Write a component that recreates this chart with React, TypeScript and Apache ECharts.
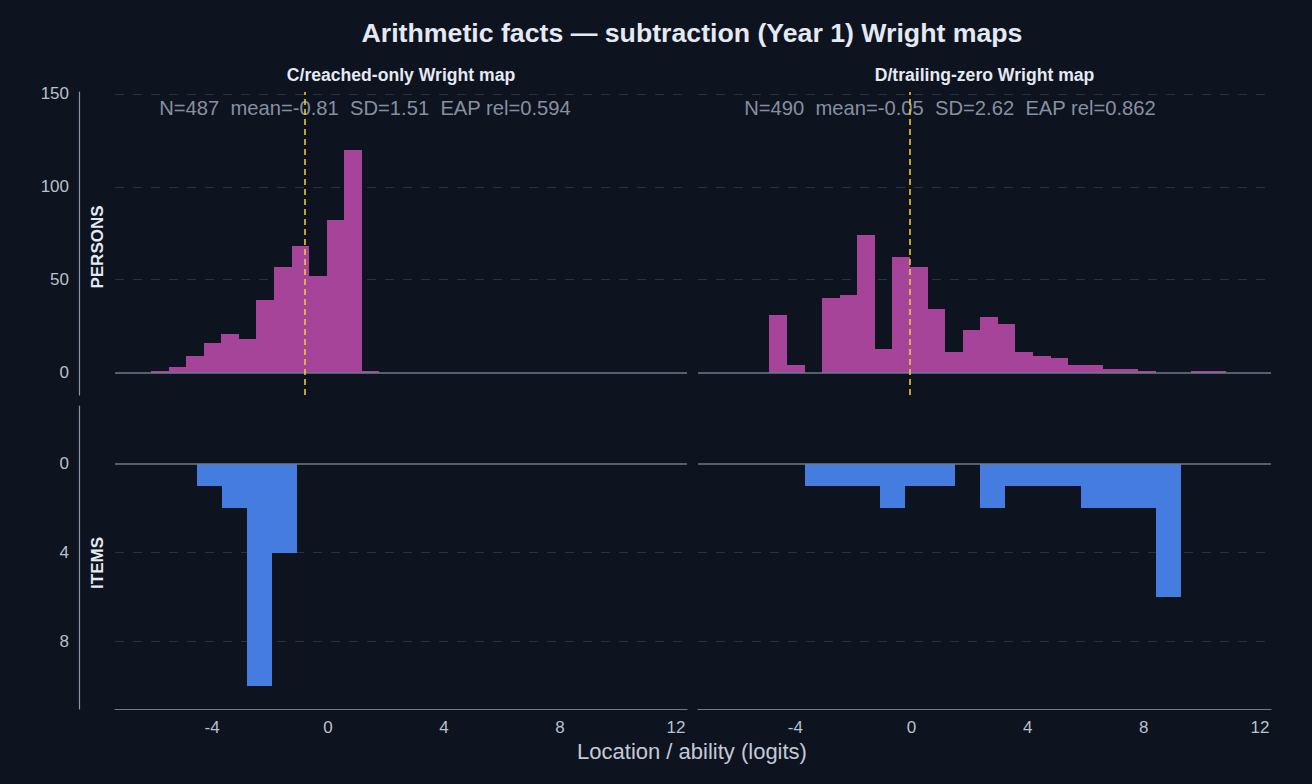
import { useEffect, useRef } from "react";
import * as echarts from "echarts";

// Histogram bin layout (logits)
const PERSON_BIN_START = -6.1;
const PERSON_BIN_WIDTH = 0.605;
const ITEM_BIN_START = -4.52;
const ITEM_BIN_WIDTH = 0.862;

// Person ability counts per bin
const personsC = [1, 3, 9, 16, 21, 18, 39, 57, 68, 52, 82, 120, 1];
const personsD = [0, 0, 31, 4, 0, 40, 42, 74, 13, 62, 57, 34, 11, 23, 30, 26, 11, 9, 8, 4, 4, 2, 2, 1, 0, 0, 1, 1];

// Item location counts per bin
const itemsC = [1, 2, 10, 4];
const itemsD = [0, 1, 1, 1, 2, 1, 1, 0, 2, 1, 1, 1, 2, 2, 2, 6];

const meanC = -0.81;
const meanD = -0.05;

const panelTitles = ["C/reached-only Wright map", "D/trailing-zero Wright map"];
const statsText = [
  "N=487  mean=-0.81  SD=1.51  EAP rel=0.594",
  "N=490  mean=-0.05  SD=2.62  EAP rel=0.862",
];

const xTicks = [-4, 0, 4, 8, 12];
const personTicks = [0, 50, 100, 150];
const itemTicks = [0, 4, 8];
const personGrid = [50, 100, 150];
const itemGrid = [4, 8];

const X_MIN = -7.35;
const X_MAX = 12.38;

const FONT = "'Liberation Sans', Arial, Helvetica, sans-serif";
const BG = "#0e1320";
const PURPLE = "#a6449a";
const BLUE = "#447ddf";
const GRID_COLOR = "#283245";
const BASE_COLOR = "#6e7a8e";
const SPINE_COLOR = "#8a94a6";
const LABEL_COLOR = "#b9c1cd";
const MEAN_COLOR = "#f0c830";

function toBins(counts: number[], start: number, width: number) {
  return counts
    .map((c, i) => [start + i * width, start + (i + 1) * width, c])
    .filter((d) => d[2] > 0);
}

function barSeries(counts: number[], start: number, width: number, idx: number, color: string) {
  return {
    type: "custom",
    xAxisIndex: idx,
    yAxisIndex: idx,
    z: 3,
    encode: { x: [0, 1], y: 2 },
    data: toBins(counts, start, width),
    renderItem: (_params: any, api: any) => {
      const a = api.coord([api.value(0), 0]);
      const b = api.coord([api.value(1), api.value(2)]);
      // snap edges to whole pixels so neighbouring bins meet without seams
      const x0 = Math.round(Math.min(a[0], b[0]));
      const x1 = Math.round(Math.max(a[0], b[0]));
      const y0 = Math.round(Math.min(a[1], b[1]));
      const y1 = Math.round(Math.max(a[1], b[1]));
      return {
        type: "rect",
        shape: { x: x0, y: y0, width: x1 - x0, height: y1 - y0 },
        style: { fill: color },
      };
    },
  };
}

function gridSeries(idx: number, values: number[]) {
  return {
    type: "custom",
    xAxisIndex: idx,
    yAxisIndex: idx,
    z: 1,
    data: [],
    renderItem: () => null,
    markLine: {
      z: 1,
      silent: true,
      symbol: "none",
      label: { show: false },
      lineStyle: { color: GRID_COLOR, type: [9, 9], width: 1 },
      data: values.map((v) => ({ yAxis: v })),
    },
  };
}

function overlaySeries(idx: number, mean: number | null) {
  const data: any[] = [
    { yAxis: 0, lineStyle: { color: BASE_COLOR, type: "solid", width: 1.6 } },
  ];
  if (mean !== null) {
    data.push({ xAxis: mean, lineStyle: { color: MEAN_COLOR, type: [6, 4], width: 1.6 } });
  }
  return {
    type: "custom",
    xAxisIndex: idx,
    yAxisIndex: idx,
    z: 6,
    data: [],
    renderItem: () => null,
    markLine: {
      z: 6,
      silent: true,
      symbol: "none",
      label: { show: false },
      data,
    },
  };
}

export default function App() {
  const ref = useRef<HTMLDivElement>(null);

  useEffect(() => {
    if (!ref.current) return;
    const chart = echarts.init(ref.current, null, { renderer: "svg" });

    const grids = [
      { left: 115, width: 572, top: 92, height: 303 },
      { left: 698, width: 573, top: 92, height: 303 },
      { left: 115, width: 572, top: 406, height: 303 },
      { left: 698, width: 573, top: 406, height: 303 },
    ];

    const xAxis = grids.map((_, i) => ({
      type: "value",
      gridIndex: i,
      min: X_MIN,
      max: X_MAX,
      show: i >= 2,
      splitLine: { show: false },
      axisTick: { show: false },
      axisLine: { show: true, onZero: false, lineStyle: { color: BASE_COLOR, width: 1.2 } },
      axisLabel: {
        customValues: xTicks,
        color: LABEL_COLOR,
        fontSize: 17,
        fontFamily: FONT,
        margin: 10,
      },
    }));

    const yAxis = grids.map((_, i) => {
      const persons = i < 2;
      return {
        type: "value",
        gridIndex: i,
        min: persons ? -12 : -2.6,
        max: persons ? 151 : 11.05,
        inverse: !persons,
        show: i % 2 === 0,
        offset: 36,
        splitLine: { show: false },
        axisTick: { show: false },
        axisLine: { show: true, onZero: false, lineStyle: { color: SPINE_COLOR, width: 1.2 } },
        axisLabel: {
          customValues: persons ? personTicks : itemTicks,
          color: LABEL_COLOR,
          fontSize: 17,
          fontFamily: FONT,
          margin: 10,
        },
      };
    });

    const series: any[] = [
      gridSeries(0, personGrid),
      gridSeries(1, personGrid),
      gridSeries(2, itemGrid),
      gridSeries(3, itemGrid),
      barSeries(personsC, PERSON_BIN_START, PERSON_BIN_WIDTH, 0, PURPLE),
      barSeries(personsD, PERSON_BIN_START, PERSON_BIN_WIDTH, 1, PURPLE),
      barSeries(itemsC, ITEM_BIN_START, ITEM_BIN_WIDTH, 2, BLUE),
      barSeries(itemsD, ITEM_BIN_START, ITEM_BIN_WIDTH, 3, BLUE),
      overlaySeries(0, meanC),
      overlaySeries(1, meanD),
      overlaySeries(2, null),
      overlaySeries(3, null),
    ];

    const textStyle = (text: string, size: number, color: string, weight: any) => ({
      text,
      fill: color,
      font: `${weight} ${size}px ${FONT}`,
      align: "center",
      verticalAlign: "middle",
    });

    const graphic: any[] = [
      {
        type: "text",
        x: 692,
        y: 33,
        style: textStyle("Arithmetic facts — subtraction (Year 1) Wright maps", 26.7, "#e4e9f2", "bold"),
      },
      { type: "text", x: 401, y: 75, style: textStyle(panelTitles[0], 17.6, "#e4e9f2", "bold") },
      { type: "text", x: 984.5, y: 75, style: textStyle(panelTitles[1], 17.6, "#e4e9f2", "bold") },
      { type: "text", x: 365, y: 108, style: textStyle(statsText[0], 20.2, "#8690a1", "normal") },
      { type: "text", x: 950, y: 108, style: textStyle(statsText[1], 20.2, "#8690a1", "normal") },
      {
        type: "text",
        x: 97,
        y: 247,
        rotation: Math.PI / 2,
        style: textStyle("PERSONS", 17, "#e4e9f2", "bold"),
      },
      {
        type: "text",
        x: 97,
        y: 563,
        rotation: Math.PI / 2,
        style: textStyle("ITEMS", 17, "#e4e9f2", "bold"),
      },
      {
        type: "text",
        x: 692,
        y: 751,
        style: textStyle("Location / ability (logits)", 22, "#c3cad6", "normal"),
      },
    ];

    chart.setOption({
      animation: false,
      backgroundColor: BG,
      grid: grids.map((g) => ({ ...g, containLabel: false })),
      xAxis,
      yAxis,
      series,
      graphic,
    });

    return () => chart.dispose();
  }, []);

  return (
    <div
      ref={ref}
      style={{ position: "fixed", left: 0, top: 0, width: 1312, height: 784 }}
    />
  );
}
